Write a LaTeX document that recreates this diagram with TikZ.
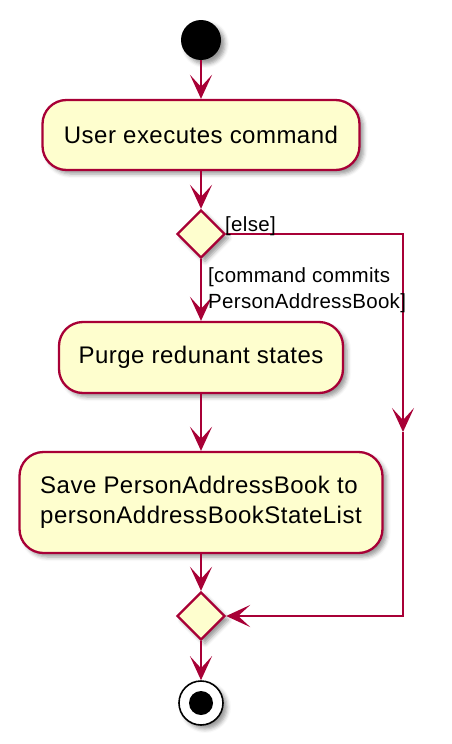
\documentclass[tikz,border=0pt]{standalone}
\usepackage{fontspec}
\setmainfont{Liberation Sans}
\newfontfamily\boxfont[LetterSpace=2]{Liberation Sans}
\newfontfamily\lblfont[LetterSpace=1.5]{Liberation Sans}
\usetikzlibrary{arrows.meta,shapes.geometric,shadows.blur}
\definecolor{umlred}{RGB}{168,0,54}
\definecolor{umlfill}{RGB}{254,254,206}
\tikzset{
  shad/.style={blur shadow={shadow xshift=4pt,shadow yshift=-4pt,shadow blur radius=4pt,shadow opacity=40}},
  actbox/.style={draw=umlred,fill=umlfill,line width=2.3pt,rounded corners=24pt,shad,
    font=\boxfont\fontsize{24}{30}\selectfont,inner sep=0pt,align=left},
  decide/.style={diamond,draw=umlred,fill=umlfill,line width=2.3pt,minimum width=48pt,minimum height=48pt,inner sep=0pt,shad},
  flow/.style={draw=umlred,line width=2.6pt,-{Stealth[length=24pt,width=22pt,inset=12pt]}},
  lbl/.style={font=\lblfont\fontsize{20.5}{26}\selectfont,inner sep=0pt},
}
\begin{document}
\begin{tikzpicture}[x=1pt,y=-1pt]
\useasboundingbox (0,0) rectangle (452,744);
\node[circle,fill=black,minimum size=40pt,inner sep=0pt,shad] (start) at (201,40) {};
\node[actbox,minimum width=317pt,minimum height=70pt] (a1) at (201,135) {User executes command};
\node[decide] (d1) at (201,234) {};
\node[actbox,minimum width=284pt,minimum height=71pt] (a2) at (201,357.5) {Purge redunant states};
\node[actbox,minimum width=363pt,minimum height=101pt] (a3) at (201,502.5) {Save PersonAddressBook to\\personAddressBookStateList};
\node[decide] (d2) at (201,616) {};
\node[circle,draw=black,fill=white,line width=1.6pt,minimum size=44pt,inner sep=0pt,shad] (end) at (201,703) {};
\node[circle,fill=black,minimum size=24pt,inner sep=0pt] (endin) at (201,703) {};
\coordinate (c1) at (403,234);
\coordinate (cm) at (403,432);
\coordinate (c2) at (403,616);
\draw[flow] (start) -- (a1);
\draw[flow] (a1) -- (d1);
\draw[flow] (d1.south) -- (a2);
\draw[flow] (a2) -- (a3);
\draw[flow] (a3) -- (d2);
\draw[flow] (d2.south) -- (end);
\draw[flow,line join=miter] (d1.east) -- (c1) -- (cm);
\draw[flow,line join=miter] (cm) -- (c2) -- (d2.east);
\node[lbl,anchor=base west] (lelse) at (225,231) {[else]};
\node[lbl,anchor=base west] (lcmd1) at (208,282) {[command commits};
\node[lbl,anchor=base west] (lcmd2) at (208,308) {PersonAddressBook]};
\end{tikzpicture}
\end{document}
